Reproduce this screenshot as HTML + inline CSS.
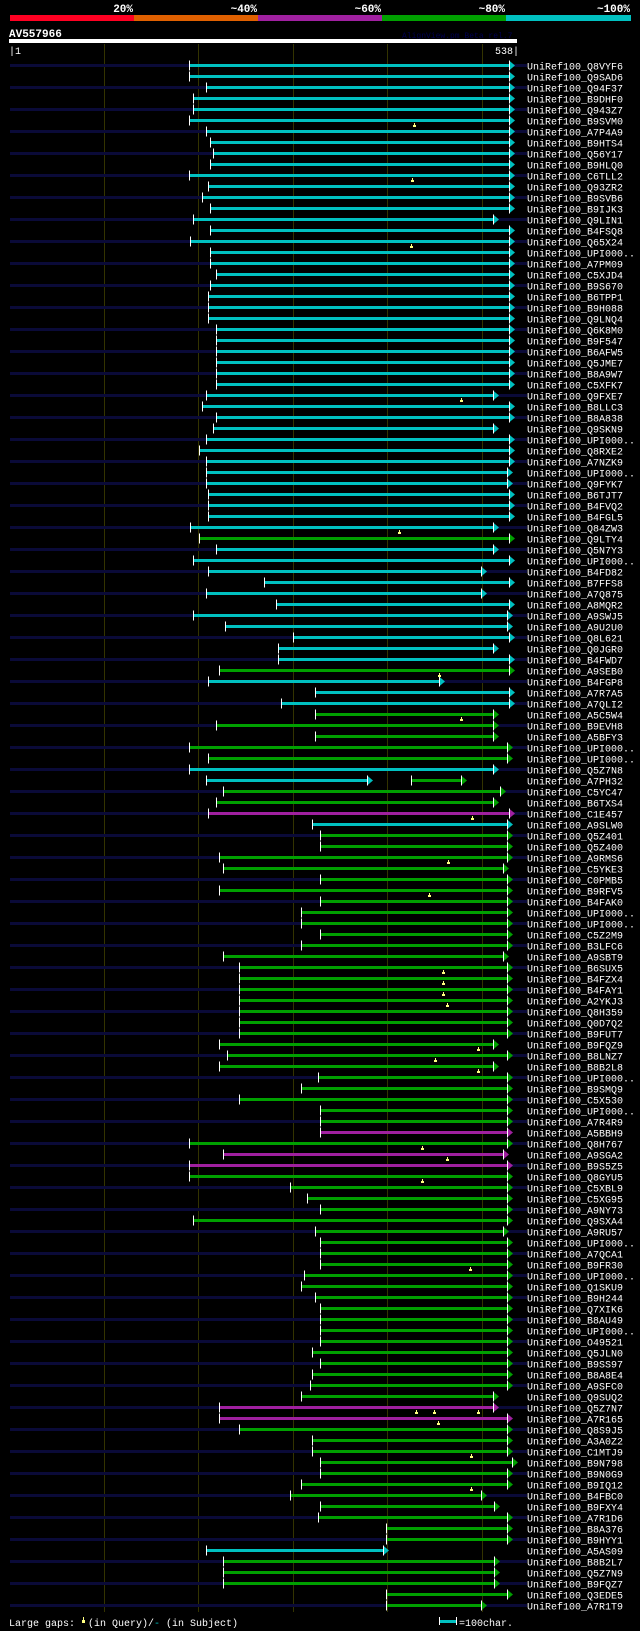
<!DOCTYPE html>
<html><head><meta charset="utf-8">
<style>
html,body{margin:0;padding:0;background:#000;}
svg{display:block;}
text{font-family:"Liberation Mono",monospace;}
</style></head>
<body>
<svg id="chart" width="640" height="1631" viewBox="0 0 640 1631" xmlns="http://www.w3.org/2000/svg">
<rect x="0" y="0" width="640" height="1631" fill="#000"/>
<g>
<rect x="10" y="15" width="124" height="6" fill="#ff0022"/>
<rect x="134" y="15" width="124" height="6" fill="#e06000"/>
<rect x="258" y="15" width="124" height="6" fill="#a020a0"/>
<rect x="382" y="15" width="124" height="6" fill="#00a000"/>
<rect x="506" y="15" width="125" height="6" fill="#00c0c0"/>
<g font-size="11" font-weight="bold" fill="#fff" text-anchor="end">
<text x="133" y="12">20%</text>
<text x="257" y="12">~40%</text>
<text x="381" y="12">~60%</text>
<text x="505" y="12">~80%</text>
<text x="630" y="12">~100%</text>
</g>
</g>
<text x="9" y="37" font-size="11" font-weight="bold" fill="#fff">AV557966</text>
<text x="402" y="38" font-size="8" fill="#000050">AlignView.pm Beta rel.7</text>
<rect x="9" y="39" width="508" height="4" fill="#fff"/>
<text x="9" y="54" font-size="10" fill="#fff">|1</text>
<text x="519" y="54" font-size="10" fill="#fff" text-anchor="end">538|</text>
<g id="grid"></g>
<g id="rows"></g>
<g font-size="10" fill="#fff">
<text x="9" y="1626">Large gaps:</text>
<rect x="82" y="1620" width="3" height="3" fill="#ffff80"/><rect x="83" y="1617" width="1" height="3" fill="#ffff80"/>
<text x="88" y="1626">(in Query)/<tspan fill="#00c0c0">-</tspan> (in Subject)</text>
<rect x="439" y="1617" width="1" height="8" fill="#fff"/>
<rect x="440" y="1620" width="16" height="3" fill="#00c0c0"/>
<rect x="456" y="1617" width="1" height="8" fill="#fff"/>
<text x="459" y="1626">=100char.</text>
</g>
</svg>
<script>
const names=["Q8VYF6","Q9SAD6","Q94F37","B9DHF0","Q943Z7","B9SVM0","A7P4A9","B9HTS4","Q56Y17","B9HLQ0","C6TLL2","Q93ZR2","B9SVB6","B9IJK3","Q9LIN1","B4FSQ8","Q65X24","UPI000..","A7PM09","C5XJD4","B9S670","B6TPP1","B9H088","Q9LNQ4","Q6K8M0","B9F547","B6AFW5","Q5JME7","B8A9W7","C5XFK7","Q9FXE7","B8LLC3","B8A838","Q9SKN9","UPI000..","Q8RXE2","A7NZK9","UPI000..","Q9FYK7","B6TJT7","B4FVQ2","B4FGL5","Q84ZW3","Q9LTY4","Q5N7Y3","UPI000..","B4FD82","B7FFS8","A7Q875","A8MQR2","A9SWJ5","A9U2U0","Q8L621","Q0JGR0","B4FWD7","A9SEB0","B4FGP8","A7R7A5","A7QLI2","A5C5W4","B9EVH8","A5BFY3","UPI000..","UPI000..","Q5Z7N8","A7PH32","C5YC47","B6TXS4","C1E457","A9SLW0","Q5Z401","Q5Z400","A9RMS6","C5YKE3","C0PMB5","B9RFV5","B4FAK0","UPI000..","UPI000..","C5Z2M9","B3LFC6","A9SBT9","B6SUX5","B4FZX4","B4FAY1","A2YKJ3","Q8H359","Q0D7Q2","B9FUT7","B9FQZ9","B8LNZ7","B8B2L8","UPI000..","B9SMQ9","C5X530","UPI000..","A7R4R9","A5BBH9","Q8H767","A9SGA2","B9S5Z5","Q8GYU5","C5XBL9","C5XG95","A9NY73","Q9SXA4","A9RU57","UPI000..","A7QCA1","B9FR30","UPI000..","Q1SKU9","B9H244","Q7XIK6","B8AU49","UPI000..","O49521","Q5JLN0","B9SS97","B8A8E4","A9SFC0","Q9SUQ2","Q5Z7N7","A7R165","Q8S9J5","A3A0Z2","C1MTJ9","B9N798","B9N0G9","B9IQ12","B4FBC0","B9FXY4","A7R1D6","B8A376","B9HYY1","A5AS09","B8B2L7","Q5Z7N9","B9FQZ7","Q3EDE5","A7R1T9"];
const starts=[190,190,208,195,195,190,208,213,216,213,190,210,204,213,195,213,191,213,213,219,213,210,210,210,219,219,219,219,219,219,208,204,219,216,208,201,208,208,208,210,210,210,191,201,219,195,210,270,208,282,195,228,300,285,285,222,210,324,288,324,219,324,190,210,190,208,226,219,210,321,329,329,222,226,329,222,329,309,309,329,309,226,243,243,243,243,243,243,243,222,231,222,327,309,243,329,329,329,190,226,190,190,297,315,329,195,324,329,329,329,312,309,324,329,329,329,329,321,329,321,318,309,222,222,243,321,321,329,329,309,297,329,327,399,399,208,226,226,226,399,399];
const ends=[529,529,529,529,529,529,529,529,529,529,529,529,529,529,512,529,529,529,529,529,529,529,529,529,529,529,529,529,529,529,512,529,529,512,529,529,529,527,527,529,529,529,512,529,512,529,499,529,499,529,527,527,529,512,529,529,455,529,529,512,512,512,527,527,512,379,520,512,529,527,527,527,527,523,527,527,527,527,527,527,527,523,527,527,527,527,527,527,527,512,527,512,527,527,527,527,527,527,527,523,527,527,527,527,527,527,523,527,527,527,527,527,527,527,527,527,527,527,527,527,527,512,512,527,527,527,527,532,527,527,499,513,527,527,527,396,513,513,513,527,499];
const identity="cccccccccccccccccccccccccccccccccccccccccccgcccccccccccgcccgggggccggmcgggggggggggggggggggggggggggmgmmgggggggggggggggggggggmmgggggggggggcggggggc";
const extraRows=[65];
const extraStarts=[425];
const extraEnds=[478];
const extraIdentity="g";
const gapRows=[5,10,16,30,42,55,59,68,72,75,82,83,84,85,89,90,91,98,99,101,109,122,122,122,123,126,129];
const gapPos=[428,426,425,478,413,455,478,490,465,444,459,459,459,463,496,451,496,437,463,437,488,431,450,496,454,489,489];

const NS="http://www.w3.org/2000/svg";
const colorMap={c:"#00c0c0",g:"#00a000",m:"#a020a0"};
function xScale(p){return 10+(p-1)*0.945;}
function yRow(i){return 65.5+i*11;}
function mk(tag,attrs,parent){const e=document.createElementNS(NS,tag);for(const k in attrs)e.setAttribute(k,attrs[k]);parent.appendChild(e);return e;}

const grid=document.getElementById('grid');
[100,200,300,400,500].forEach(function(p){
  const l=mk('rect',{x:Math.round(xScale(p)),y:44,width:1,height:1568,fill:'#333300'},grid);
  
  
});

const rowsG=document.getElementById('rows');
function drawHit(g,s,e,col,y){
  const x1=Math.round(xScale(s)),x2=Math.round(xScale(e));
  const bar=mk('rect',{x:x1,y:y-1.5,width:x2-x1,height:3,fill:col},g);
  
  
  mk('rect',{x:x1,y:y-5,width:1,height:10,fill:'#fff'},g);
  mk('polygon',{points:(x2)+','+(y-5)+' '+(x2+6)+','+y+' '+(x2)+','+(y+5),fill:col},g);
  mk('rect',{x:x2,y:y-5,width:1,height:10,fill:'#fff'},g);
}
names.forEach(function(n,i){
  const y=yRow(i);
  const g=mk('g',{},rowsG);
  
  
  if(i%2===0){
    mk('rect',{x:10,y:y-1.5,width:517,height:3,fill:'#0a0a38'},g);
  }
  drawHit(g,starts[i],ends[i],colorMap[identity[i]],y);
  const t=mk('text',{x:527,y:y+4,'font-size':10,fill:'#fff'},g);
  
  
  t.textContent='UniRef100_'+n;
});
extraRows.forEach(function(r,k){
  const g=mk('g',{},rowsG);
  
  
  drawHit(g,extraStarts[k],extraEnds[k],colorMap[extraIdentity[k]],yRow(r));
});
gapRows.forEach(function(r,k){
  const x=Math.round(xScale(gapPos[k])),y=Math.round(yRow(r));
  const m=mk('g',{},rowsG);
  
  
  mk('rect',{x:x,y:y+2,width:1,height:2,fill:'#ffff80'},m);
  mk('rect',{x:x-1,y:y+4,width:3,height:2,fill:'#ffff80'},m);
});
</script>
</body></html>
